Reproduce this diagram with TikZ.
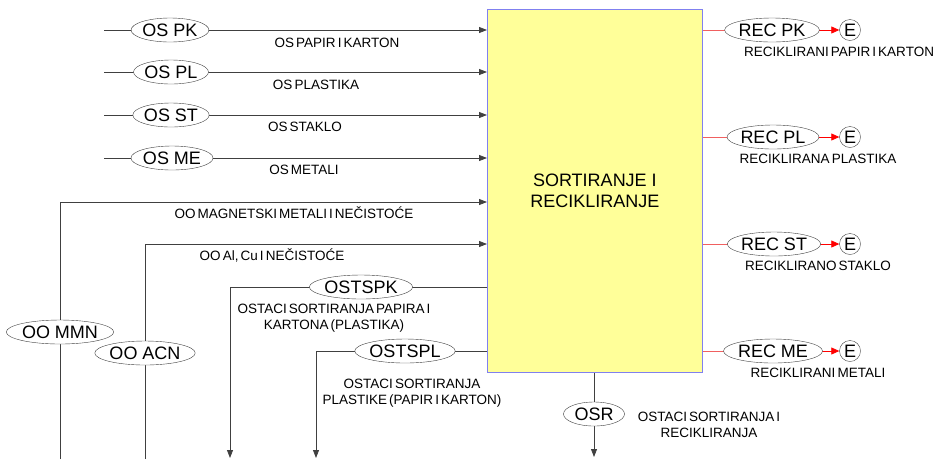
\documentclass[tikz,border=0pt]{standalone}
\usepackage{fontspec}
\setmainfont{Liberation Sans}
\newfontfamily\lblfont[WordSpace=0.55]{Liberation Sans}
\usetikzlibrary{shapes.geometric,arrows.meta}
\definecolor{boxfill}{HTML}{FFFF99}
\definecolor{boxline}{HTML}{8080F0}
\definecolor{ln}{HTML}{404040}
\definecolor{redl}{HTML}{F06060}
\tikzset{
  ov/.style={ellipse,draw=ln,fill=white,inner sep=0pt,minimum height=24pt,font=\fontsize{18}{18}\selectfont},
  ecirc/.style={circle,draw=ln,fill=white,inner sep=0pt,minimum size=21pt,font=\fontsize{18}{18}\selectfont},
  lbl/.style={font=\lblfont\fontsize{13.5}{15.5}\selectfont,align=center,inner sep=0pt},
  flow/.style={draw=ln,line width=0.8pt},
  inarrow/.style={flow,-{Triangle[length=8pt,width=6pt]}},
  outred/.style={draw=redl,line width=0.8pt},
  redarrow/.style={draw=red,line width=0.8pt,-{Triangle[length=8pt,width=7pt,fill=red]}}
}
\begin{document}
\begin{tikzpicture}[x=1pt,y=-1pt]
\useasboundingbox (0,0) rectangle (941,459);
% main box
\node[draw=boxline,fill=boxfill,line width=0.8pt,minimum width=215pt,minimum height=363pt,inner sep=0pt,anchor=north west,
  font=\fontsize{18}{21}\selectfont,align=center] (box) at (487,9) {SORTIRANJE I\\RECIKLIRANJE};

% inputs
\coordinate (s1) at (104,30);
\coordinate (s2) at (104,72);
\coordinate (s3) at (104,115);
\coordinate (s4) at (104,158);
\draw[inarrow] (s1) -- (s1 -| box.west);
\draw[inarrow] (s2) -- (s2 -| box.west);
\draw[inarrow] (s3) -- (s3 -| box.west);
\draw[inarrow] (s4) -- (s4 -| box.west);
\node[ov,minimum width=77pt] (ospk) at (170,30) {OS PK};
\node[ov,minimum width=75pt] (ospl) at (171,72) {OS PL};
\node[ov,minimum width=76pt] (osst) at (171,115) {OS ST};
\node[ov,minimum width=77pt] (osme) at (172,158) {OS ME};
\node[lbl] (l1) at (337,43) {OS PAPIR I KARTON};
\node[lbl] (l2) at (316,85) {OS PLASTIKA};
\node[lbl] (l3) at (305,127) {OS STAKLO};
\node[lbl] (l4) at (304,170) {OS METALI};

% OO lines
\coordinate (m0) at (60,459);
\coordinate (m1) at (60,202);
\coordinate (a0) at (145,459);
\coordinate (a1) at (145,244);
\draw[inarrow] (m0) -- (m1) -- (m1 -| box.west);
\draw[inarrow] (a0) -- (a1) -- (a1 -| box.west);
\node[ov,minimum width=99pt] (mmn) at (60,332) {OO MMN};
\node[ov,minimum width=93pt] (acn) at (145,353) {OO ACN};
\node[lbl] (l5) at (294,213) {OO MAGNETSKI METALI I NEČISTOĆE};
\node[lbl] (l6) at (272,255) {OO Al, Cu I NEČISTOĆE};

% OSTSPK / OSTSPL
\coordinate (k1) at (230,287);
\coordinate (k2) at (230,458);
\coordinate (p1) at (316,351);
\coordinate (p2) at (316,458);
\draw[inarrow] (k1 -| box.west) -- (k1) -- (k2);
\draw[inarrow] (p1 -| box.west) -- (p1) -- (p2);
\node[ov,minimum width=96pt] (ostspk) at (361,287) {OSTSPK};
\node[ov,minimum width=93pt] (ostspl) at (405,351) {OSTSPL};
\node[lbl] (l7) at (334,318) {OSTACI SORTIRANJA PAPIRA I\\KARTONA (PLASTIKA)};
\node[lbl] (l8) at (412,393) {OSTACI SORTIRANJA\\PLASTIKE (PAPIR I KARTON)};

% OSR
\coordinate (r2) at (594,457);
\draw[inarrow] (box.south -| r2) -- (r2);
\node[ov,minimum width=61pt] (osr) at (594,414) {OSR};
\node[lbl] (l9) at (709,425) {OSTACI SORTIRANJA I\\RECIKLIRANJA};

% outputs
\coordinate (c1) at (772,30);
\coordinate (c2) at (773,137);
\coordinate (c3) at (774,244);
\coordinate (c4) at (773,351);
\node[ecirc] (e1) at (850,30) {E};
\node[ecirc] (e2) at (850,137) {E};
\node[ecirc] (e3) at (850,244) {E};
\node[ecirc] (e4) at (850,351) {E};
\draw[outred] (c1 -| box.east) -- (c1);
\draw[outred] (c2 -| box.east) -- (c2);
\draw[outred] (c3 -| box.east) -- (c3);
\draw[outred] (c4 -| box.east) -- (c4);
\draw[redarrow] (c1) -- (e1);
\draw[redarrow] (c2) -- (e2);
\draw[redarrow] (c3) -- (e3);
\draw[redarrow] (c4) -- (e4);
\node[ov,minimum width=90pt] (recpk) at (c1) {REC PK};
\node[ov,minimum width=88pt] (recpl) at (c2) {REC PL};
\node[ov,minimum width=89pt] (recst) at (c3) {REC ST};
\node[ov,minimum width=93pt] (recme) at (c4) {REC ME};
\node[lbl] (l10) at (839,52) {RECIKLIRANI PAPIR I KARTON};
\node[lbl] (l11) at (818,159) {RECIKLIRANA PLASTIKA};
\node[lbl] (l12) at (818,266) {RECIKLIRANO STAKLO};
\node[lbl] (l13) at (818,373) {RECIKLIRANI METALI};
\end{tikzpicture}
\end{document}
